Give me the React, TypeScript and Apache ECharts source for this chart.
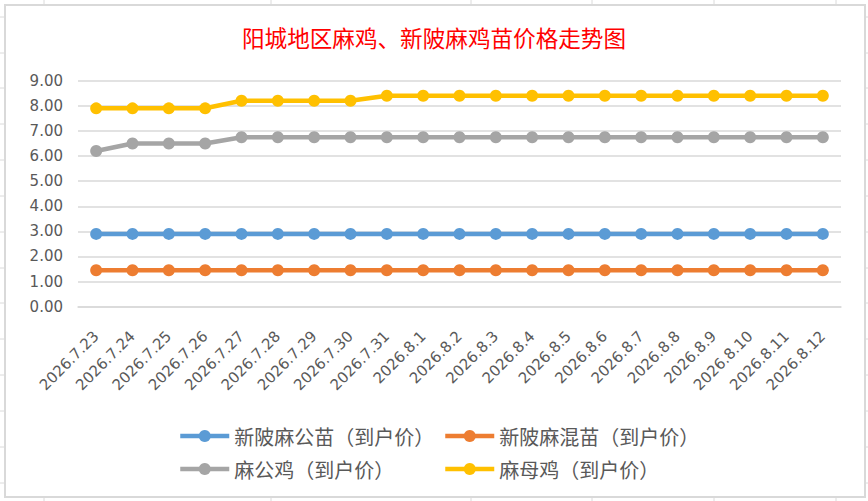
import React, { useEffect, useRef } from "react";
import * as echarts from "echarts";

const dates = [
  "2026.7.23", "2026.7.24", "2026.7.25", "2026.7.26", "2026.7.27", "2026.7.28", "2026.7.29",
  "2026.7.30", "2026.7.31", "2026.8.1", "2026.8.2", "2026.8.3", "2026.8.4", "2026.8.5",
  "2026.8.6", "2026.8.7", "2026.8.8", "2026.8.9", "2026.8.10", "2026.8.11", "2026.8.12",
];
const seriesNames = ["新陂麻公苗（到户价）", "新陂麻混苗（到户价）", "麻公鸡（到户价）", "麻母鸡（到户价）"];
const maleChick = [2.9, 2.9, 2.9, 2.9, 2.9, 2.9, 2.9, 2.9, 2.9, 2.9, 2.9, 2.9, 2.9, 2.9, 2.9, 2.9, 2.9, 2.9, 2.9, 2.9, 2.9];
const mixedChick = [1.45, 1.45, 1.45, 1.45, 1.45, 1.45, 1.45, 1.45, 1.45, 1.45, 1.45, 1.45, 1.45, 1.45, 1.45, 1.45, 1.45, 1.45, 1.45, 1.45, 1.45];
const rooster = [6.2, 6.5, 6.5, 6.5, 6.75, 6.75, 6.75, 6.75, 6.75, 6.75, 6.75, 6.75, 6.75, 6.75, 6.75, 6.75, 6.75, 6.75, 6.75, 6.75, 6.75];
const hen = [7.9, 7.9, 7.9, 7.9, 8.2, 8.2, 8.2, 8.2, 8.4, 8.4, 8.4, 8.4, 8.4, 8.4, 8.4, 8.4, 8.4, 8.4, 8.4, 8.4, 8.4];
const colors = ["#5b9bd5", "#ed7d31", "#a5a5a5", "#ffc000"];
const title = "阳城地区麻鸡、新陂麻鸡苗价格走势图";

const cellRowsY = [17, 53, 88, 124, 160, 196, 232, 268, 303, 339, 375, 411, 447, 483];
const cellColsX = [44, 271, 471, 592, 714, 836];

export default function App() {
  const ref = useRef<HTMLDivElement>(null);
  useEffect(() => {
    if (!ref.current) return;
    const chart = echarts.init(ref.current, null, { renderer: "svg" });
    const values = [maleChick, mixedChick, rooster, hen];
    const cellLines: any[] = [];
    cellRowsY.forEach((y) => {
      cellLines.push({ type: "line", shape: { x1: 0, y1: y, x2: 4, y2: y }, style: { stroke: "#dadada", lineWidth: 1 }, silent: true });
      cellLines.push({ type: "line", shape: { x1: 866, y1: y, x2: 868, y2: y }, style: { stroke: "#dadada", lineWidth: 1 }, silent: true });
    });
    cellColsX.forEach((x) => {
      cellLines.push({ type: "line", shape: { x1: x, y1: 0, x2: x, y2: 4 }, style: { stroke: "#dadada", lineWidth: 1 }, silent: true });
      cellLines.push({ type: "line", shape: { x1: x, y1: 498, x2: x, y2: 501 }, style: { stroke: "#dadada", lineWidth: 1 }, silent: true });
    });
    const legendPos = [
      { left: 178, top: 426 },
      { left: 443, top: 426 },
      { left: 178, top: 459 },
      { left: 443, top: 459 },
    ];
    chart.setOption({
      animation: false,
      backgroundColor: "#ffffff",
      color: colors,
      title: {
        text: title,
        left: "center",
        top: 21,
        textStyle: { color: "#ff0000", fontSize: 22.6, fontWeight: "normal", fontFamily: "Noto Sans CJK SC" },
      },
      graphic: [
        ...cellLines,
        {
          type: "rect",
          shape: { x: 5, y: 5, width: 860, height: 492 },
          style: { fill: "none", stroke: "#d9d9d9", lineWidth: 2 },
          silent: true,
        },
      ],
      legend: seriesNames.map((name, i) => ({
        data: [name],
        left: legendPos[i].left,
        top: legendPos[i].top,
        itemWidth: 49,
        itemHeight: 15,
        itemGap: 0,
        lineStyle: { width: 4.5 },
        textStyle: { color: "#595959", fontSize: 20, fontFamily: "Noto Sans CJK SC" },
        padding: 0,
      })),
      grid: { left: 78, right: 27, top: 80.7, bottom: 194.3, containLabel: false },
      xAxis: {
        type: "category",
        data: dates,
        boundaryGap: true,
        axisLine: { show: true, lineStyle: { color: "#d9d9d9", width: 1.5 } },
        axisTick: { show: false },
        axisLabel: { rotate: 45, margin: 27, color: "#595959", fontSize: 15, fontFamily: "DejaVu Sans", interval: 0 },
      },
      yAxis: {
        type: "value",
        min: 0,
        max: 9,
        interval: 1,
        axisLine: { show: false },
        axisTick: { show: false },
        splitLine: { lineStyle: { color: "#d9d9d9", width: 1.5 } },
        axisLabel: {
          margin: 15,
          color: "#595959",
          fontSize: 15,
          fontFamily: "DejaVu Sans",
          formatter: (v: number) => v.toFixed(2),
        },
      },
      series: seriesNames.map((name, i) => ({
        name,
        type: "line",
        data: values[i],
        symbol: "circle",
        symbolSize: 12,
        lineStyle: { width: 4.5, color: colors[i] },
        itemStyle: { color: colors[i] },
      })),
    });
    return () => chart.dispose();
  }, []);
  return <div ref={ref} style={{ position: "absolute", left: 0, top: 0, width: 868, height: 501 }} />;
}
